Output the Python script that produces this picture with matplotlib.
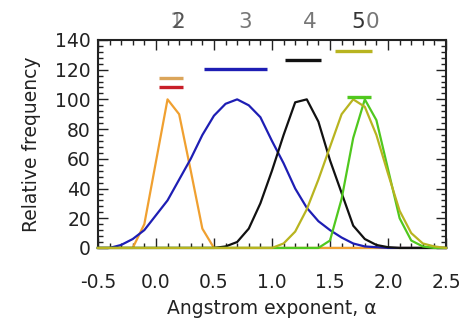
import numpy as np
import matplotlib
matplotlib.use("Agg")
import matplotlib.pyplot as plt
from matplotlib.ticker import MultipleLocator, FormatStrFormatter
from matplotlib.transforms import blended_transform_factory

# Angstrom exponent bins (centres)
alpha = np.round(np.arange(-0.5, 2.51, 0.1), 2)

# Relative frequency of each class, one value per bin
freq_orange = [0, 0, 0, 0, 16, 58, 100, 90, 52, 13, 0, 0, 0, 0, 0, 0,
               0, 0, 0, 0, 0, 0, 0, 0, 0, 0, 0, 0, 0, 0, 0]
freq_blue = [0, 0, 2, 6, 12, 22, 32, 46, 60, 76, 89, 97, 100, 96, 88, 72,
             57, 40, 27, 18, 12, 7, 3, 1, 0.5, 0, 0, 0, 0, 0, 0]
freq_black = [0, 0, 0, 0, 0, 0, 0, 0, 0, 0, 0, 1, 4, 13, 30, 52,
              76, 98, 100, 85, 59, 37, 15, 6, 2, 0.5, 0, 0, 0, 0, 0]
freq_green = [0, 0, 0, 0, 0, 0, 0, 0, 0, 0, 0, 0, 0, 0, 0, 0,
              0, 0, 0, 0, 5, 33, 74, 100, 86, 53, 20, 5, 1, 0, 0]
freq_olive = [0, 0, 0, 0, 0, 0, 0, 0, 0, 0, 0, 0, 0, 0, 0, 0,
              3, 11, 26, 46, 68, 90, 100, 95, 76, 50, 25, 10, 3, 1, 0]

# Range bars for each class: start, end and height
bar_start = [0.03, 0.03, 0.41, 1.11, 1.54, 1.65]
bar_end = [0.23, 0.23, 0.96, 1.42, 1.86, 1.85]
bar_level = [108.5, 114.6, 120.5, 126.5, 132.8, 101.8]
bar_colors = ["#c81e28", "#dba55a", "#1e1eb4", "#111111", "#b8b420", "#50c81e"]

# Class numbers written above the frame
class_names = ["1", "2", "3", "4", "5", "0"]
class_pos = [0.18, 0.19, 0.77, 1.33, 1.74, 1.87]
class_colors = ["#9a9a9a", "#555555", "#777777", "#777777", "#333333", "#777777"]

fig = plt.figure(figsize=(4.73, 3.22), dpi=100)
ax = fig.add_axes([0.207, 0.230, 0.736, 0.646])

lw = 1.6
ax.plot(alpha, freq_orange, color="#f0a030", lw=lw, clip_on=False, zorder=3)
ax.plot(alpha, freq_blue, color="#1e1eb4", lw=lw, clip_on=False, zorder=3)
ax.plot(alpha, freq_black, color="#111111", lw=lw, clip_on=False, zorder=3)
ax.plot(alpha, freq_green, color="#50c81e", lw=lw, clip_on=False, zorder=3)
ax.plot(alpha, freq_olive, color="#b8b420", lw=lw, clip_on=False, zorder=3)

ax.hlines(bar_level, bar_start, bar_end, colors=bar_colors, lw=2.4, zorder=4)

tr = blended_transform_factory(ax.transData, ax.transAxes)
for name, xp, c in zip(class_names, class_pos, class_colors):
    ax.text(xp, 1.085, name, transform=tr, ha="center", va="center",
            fontsize=15.5, color=c)

ax.set_xlim(-0.5, 2.5)
ax.set_ylim(0, 140)
ax.xaxis.set_major_locator(MultipleLocator(0.5))
ax.xaxis.set_minor_locator(MultipleLocator(0.1))
ax.yaxis.set_major_locator(MultipleLocator(20))
ax.yaxis.set_minor_locator(MultipleLocator(4))
ax.xaxis.set_major_formatter(FormatStrFormatter("%.1f"))

ax.tick_params(which="both", direction="in", top=True, right=True,
               width=1.0, colors="#222222", labelsize=13.5)
ax.tick_params(which="major", length=7)
ax.tick_params(which="minor", length=3.5)
ax.tick_params(axis="x", pad=18)
ax.tick_params(axis="y", pad=5)

for s in ax.spines.values():
    s.set_linewidth(1.5)
    s.set_color("#222222")

ylabels = ax.get_yticklabels()
ylabels[0].set_va("bottom")
ylabels[-1].set_va("top")

ax.set_xlabel("Angstrom exponent, \u03b1", fontsize=13.5, color="#222222", labelpad=5)
ax.set_ylabel("Relative frequency", fontsize=13.5, color="#222222", labelpad=10)

fig.savefig("out.png", dpi=100)
